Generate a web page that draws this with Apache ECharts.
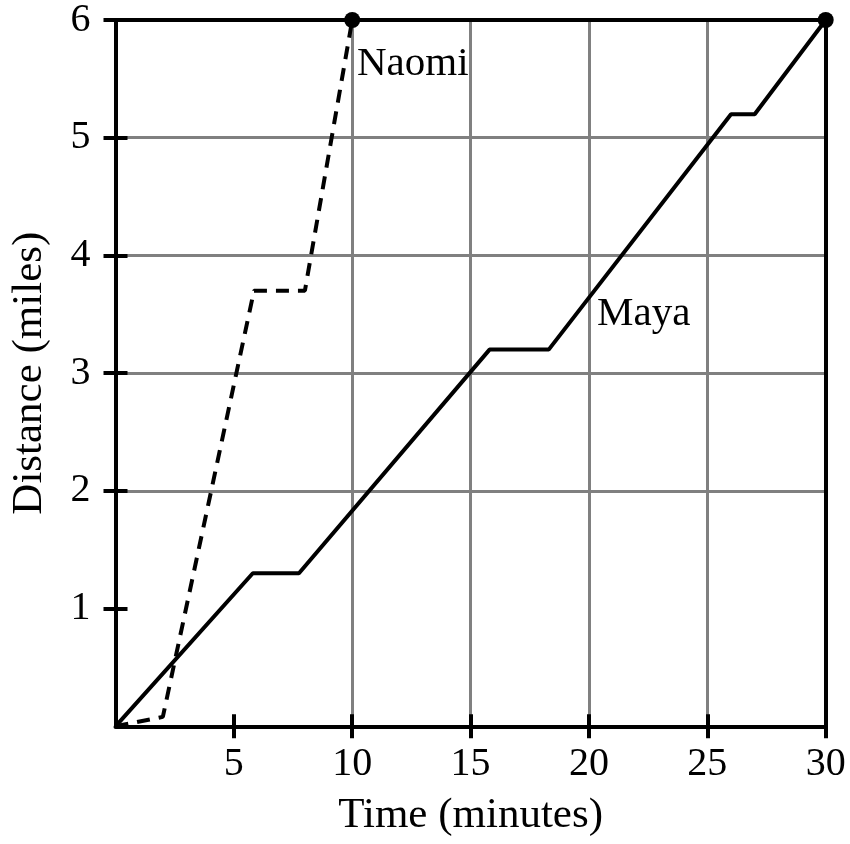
<!DOCTYPE html>
<html>
<head>
<meta charset="UTF-8">
<title>Distance vs time</title>
<script src="https://cdn.jsdelivr.net/npm/echarts@6/dist/echarts.min.js"></script>
</head>
<body style="margin:0">
<div id="main" style="width:850px;height:844px"></div>
<script type="text/javascript">
	var naomiTime = [0, 2, 5.85, 8.0, 10];
	var naomiDist = [0, 0.08, 3.7, 3.7, 6];
	var mayaTime = [0, 5.8, 7.75, 15.8, 18.3, 26, 27, 30];
	var mayaDist = [0, 1.3, 1.3, 3.2, 3.2, 5.2, 5.2, 6];
	var endTime = [10, 30];
	var endDist = [6, 6];
	var xTicks = [5, 10, 15, 20, 25, 30];
	var yTicks = [1, 2, 3, 4, 5, 6];
	var labelNames = ['Naomi', 'Maya'];
	var labelTime = [10.2, 20.34];
	var labelDist = [5.62, 3.5];

	function pairs(xs, ys) {
		return xs.map(function(x, i) { return [x, ys[i]]; });
	}

	var font = 'Liberation Serif';
	var black = '#000';
	var gray = '#808080';

	var myChart = echarts.init(document.getElementById('main'));

	var option = {
		animation: false,
		textStyle: { fontFamily: font, color: black },
		grid: { left: 115.5, right: 24.3, top: 18.3, bottom: 117.7 },
		xAxis: [{
			type: 'value', min: 0, max: 30, interval: 5, position: 'bottom',
			name: 'Time (minutes)', nameLocation: 'middle', nameGap: 68,
			nameTextStyle: { fontFamily: font, fontSize: 43, color: black },
			axisLine: { show: true, lineStyle: { color: black, width: 4 } },
			axisTick: { show: true, length: 12, customValues: xTicks, lineStyle: { color: black, width: 4 } },
			axisLabel: { customValues: xTicks, margin: 18, fontFamily: font, fontSize: 40, color: black },
			splitLine: { show: true, showMinLine: false, showMaxLine: false, lineStyle: { color: gray, width: 3 } }
		}, {
			type: 'value', min: 0, max: 30, interval: 5, position: 'bottom',
			axisLine: { show: false },
			axisTick: { show: true, inside: true, length: 12, customValues: xTicks, lineStyle: { color: black, width: 4 } },
			axisLabel: { show: false },
			splitLine: { show: false }
		}, {
			type: 'value', min: 0, max: 30, position: 'top',
			axisLine: { show: true, onZero: false, lineStyle: { color: black, width: 4 } },
			axisTick: { show: false }, axisLabel: { show: false }, splitLine: { show: false }
		}],
		yAxis: [{
			type: 'value', min: 0, max: 6, interval: 1, position: 'left',
			name: 'Distance (miles)', nameLocation: 'middle', nameGap: 64,
			nameTextStyle: { fontFamily: font, fontSize: 43, color: black },
			axisLine: { show: true, lineStyle: { color: black, width: 4 } },
			axisTick: { show: true, length: 12, customValues: yTicks, lineStyle: { color: black, width: 4 } },
			axisLabel: { customValues: yTicks, margin: 25, fontFamily: font, fontSize: 40, color: black },
			splitLine: { show: true, showMinLine: false, showMaxLine: false, lineStyle: { color: gray, width: 3 } }
		}, {
			type: 'value', min: 0, max: 6, interval: 1, position: 'left',
			axisLine: { show: false },
			axisTick: { show: true, inside: true, length: 12, customValues: yTicks, lineStyle: { color: black, width: 4 } },
			axisLabel: { show: false },
			splitLine: { show: false }
		}, {
			type: 'value', min: 0, max: 6, position: 'right',
			axisLine: { show: true, onZero: false, lineStyle: { color: black, width: 4 } },
			axisTick: { show: false }, axisLabel: { show: false }, splitLine: { show: false }
		}],
		series: [{
			name: 'Naomi', type: 'line', data: pairs(naomiTime, naomiDist),
			showSymbol: false, clip: false,
			lineStyle: { color: black, width: 4, type: [13, 9] }
		}, {
			name: 'Maya', type: 'line', data: pairs(mayaTime, mayaDist),
			showSymbol: false, clip: false,
			lineStyle: { color: black, width: 4 }
		}, {
			type: 'scatter', data: pairs(endTime, endDist), clip: false,
			symbol: 'circle', symbolSize: 16, itemStyle: { color: black, opacity: 1 }, z: 5
		}, {
			type: 'scatter', symbolSize: 0, clip: false,
			itemStyle: { color: black, opacity: 1 },
			data: labelNames.map(function(n, i) { return { name: n, value: [labelTime[i], labelDist[i]] }; }),
			label: { show: true, position: 'right', distance: 0, formatter: '{b}', fontFamily: font, fontSize: 41, color: black, opacity: 1 }
		}]
	};

	myChart.setOption(option);
</script>
</body>
</html>
